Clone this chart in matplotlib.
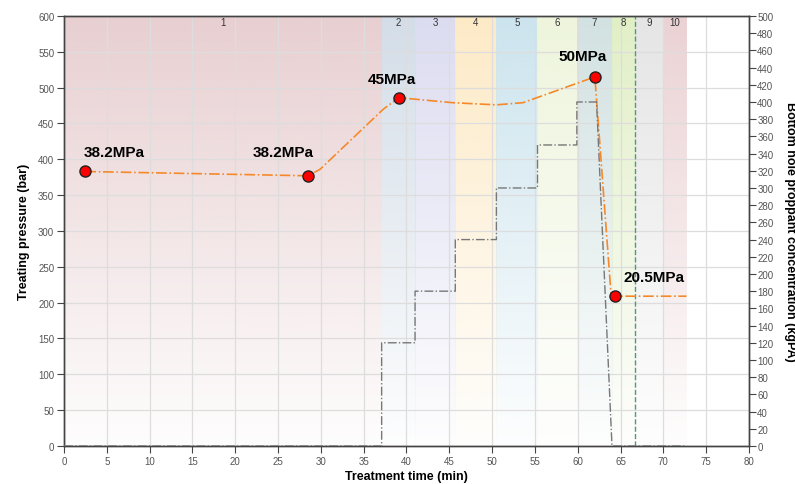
import numpy as np
import matplotlib
matplotlib.use("Agg")
import matplotlib.pyplot as plt
from matplotlib.colors import to_rgb

plt.rcParams["font.family"] = ["Liberation Sans", "DejaVu Sans"]

# Stage boundaries (min) and colours
stage_edges = [0, 37.1, 41.0, 45.7, 50.5, 55.3, 59.9, 64.0, 66.7, 70.0, 72.7]
stage_labels = ["1", "2", "3", "4", "5", "6", "7", "8", "9", "10"]
stage_colors = ["#e8cfd1", "#d3dde8", "#dcdcf1", "#fdeac6", "#cce4ee",
                "#eef5dc", "#d2e1e1", "#e1efc6", "#e5e5e5", "#ebd2d4"]

# Treating pressure (bar)
p_time = [2.5, 28.5, 29.9, 37.3, 39.1, 45.4, 50.5, 53.6, 62.0, 63.9, 64.4, 72.7]
p_bar = [383, 377, 386, 470, 486, 479, 476, 479, 515, 210, 209, 209]

# Marked points
m_time = [2.5, 28.5, 39.1, 62.0, 64.4]
m_bar = [383, 377, 486, 515, 209]
m_text = ["38.2MPa", "38.2MPa", "45MPa", "50MPa", "20.5MPa"]
m_offset_px = [(29, 19), (-25, 24), (-7, 19), (-12, 21), (39, 19)]

# Bottom hole proppant concentration (kgPA)
c_time = [0, 37.1, 37.1, 41.0, 41.0, 45.7, 45.7, 50.5, 50.5, 55.3, 55.3,
          59.9, 59.9, 62.2, 64.0, 72.7]
c_val = [0, 0, 120, 120, 180, 180, 240, 240, 300, 300, 350, 350, 400, 400, 0, 0]

flush_time = 66.7

fig = plt.figure(figsize=(7.95, 4.85), dpi=100)
ax = fig.add_axes([0.0805, 0.0784, 0.8616, 0.8866])

# stage shading with vertical fade
n = 200
alpha = np.linspace(1.0, 0.04, n)
for i, col in enumerate(stage_colors):
    rgba = np.zeros((n, 1, 4))
    rgba[:, 0, :3] = to_rgb(col)
    rgba[:, 0, 3] = alpha
    ax.imshow(rgba, extent=[stage_edges[i], stage_edges[i + 1], 0, 600],
              aspect="auto", origin="upper", zorder=0, interpolation="bilinear")
    ax.text((stage_edges[i] + stage_edges[i + 1]) / 2, 592, stage_labels[i],
            ha="center", va="center", fontsize=7, color="#333333")

ax.set_xlim(0, 80)
ax.set_ylim(0, 600)
ax.set_xticks(np.arange(0, 81, 5))
ax.set_yticks(np.arange(0, 601, 50))
ax.grid(True, color="#dddddd", linewidth=0.9)

ax.axvline(flush_time, color="#4f9a78", linestyle="--", linewidth=1.0, zorder=3)

ax.plot(p_time, p_bar, color="#f5892a", linestyle="-.", linewidth=1.2, zorder=4)
ax.plot(m_time, m_bar, "o", color="#ff0000", markeredgecolor="#222222",
        markersize=8, markeredgewidth=1.0, zorder=6)
for x, y, t, (dx, dy) in zip(m_time, m_bar, m_text, m_offset_px):
    ax.annotate(t, (x, y), xytext=(dx * 0.72, dy * 0.72), textcoords="offset points",
                ha="center", va="center", fontsize=11, fontweight="bold", zorder=7)

ax.set_xlabel("Treatment time (min)", fontsize=9, fontweight="bold", labelpad=3)
ax.set_ylabel("Treating pressure (bar)", fontsize=9, fontweight="bold", labelpad=6)

ax2 = ax.twinx()
ax2.plot(c_time, c_val, color="#777777", linestyle="-.", linewidth=1.0, zorder=3)
ax2.set_ylim(0, 500)
ax2.set_yticks(np.arange(0, 501, 20))
ax2.set_ylabel("Bottom hole proppant concentration (kgPA)", fontsize=9,
               fontweight="bold", rotation=270, labelpad=16)

for a in (ax, ax2):
    a.tick_params(labelsize=7, labelcolor="#555555", color="#444444", length=5, pad=2)
    for s in a.spines.values():
        s.set_color("#444444")
        s.set_linewidth(1.0)
ax2.tick_params(axis="y", pad=1)

fig.savefig("out.png", dpi=100)
